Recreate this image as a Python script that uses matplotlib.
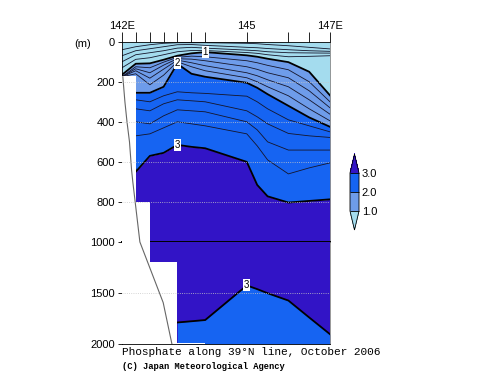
import numpy as np
import matplotlib
matplotlib.use('Agg')
import matplotlib.pyplot as plt
from matplotlib.colors import ListedColormap, BoundaryNorm
import matplotlib as mpl

plt.rcParams['font.family'] = ['Liberation Sans', 'DejaVu Sans']

# station longitudes (deg E)
lon = np.array([142.0, 142.33, 142.67, 143.0, 143.33, 143.67, 144.0,
                145.0, 145.25, 145.5, 146.0, 146.5, 147.0])

# depth (m) of each phosphate isoline at the stations
p02 = [40, 25, 15, 8, 5, 5, 5, 8, 10, 14, 20, 28, 36]
p04 = [70, 45, 35, 25, 15, 14, 18, 28, 30, 34, 40, 45, 48]
p06 = [100, 65, 55, 45, 32, 28, 32, 42, 45, 50, 55, 56, 57]
p08 = [130, 88, 80, 65, 50, 44, 44, 54, 58, 65, 75, 73, 70]
p10 = [165, 110, 108, 90, 70, 58, 52, 68, 75, 85, 102, 150, 268]
p12 = [175, 125, 130, 102, 78, 72, 75, 95, 105, 118, 140, 200, 300]
p14 = [175, 135, 155, 117, 85, 87, 95, 125, 138, 155, 180, 245, 330]
p16 = [175, 145, 182, 137, 92, 105, 120, 155, 170, 190, 225, 290, 362]
p18 = [175, 160, 215, 167, 100, 125, 145, 180, 200, 225, 270, 335, 395]
p20 = [175, 255, 255, 225, 110, 160, 175, 205, 230, 262, 320, 378, 425]
p22 = [175, 290, 300, 270, 250, 255, 258, 272, 300, 335, 390, 420, 450]
p24 = [175, 335, 345, 310, 290, 295, 300, 345, 375, 410, 458, 470, 478]
p26 = [175, 400, 410, 370, 340, 345, 350, 400, 440, 500, 541, 541, 541]
p28 = [175, 470, 460, 430, 400, 410, 420, 460, 520, 590, 660, 630, 605]
p30 = [175, 650, 570, 555, 515, 525, 532, 600, 715, 772, 803, 795, 787]
# deep 3.0 isoline (starts at 143.33E)
p30_deep = [1789, 1777, 1765, 1426, 1462, 1502, 1574, 1740, 1904]

thin_levels = [p02, p04, p06, p08, p12, p14, p16, p18, p22, p24, p26, p28]

# bottom topography (columns)
topo_left = [142.0, 142.33, 142.67, 143.33]
topo_right = [142.33, 142.67, 143.33, 144.0]
topo_depth = [172, 800, 1200, 1990]

# actual bottom profile
bathy_lon = [142.02, 142.07, 142.12, 142.18, 142.23, 142.26, 142.43, 142.99, 143.2]
bathy_depth = [175, 300, 400, 500, 640, 700, 1000, 1594, 2000]

c_low = '#a4dcee'
c_1 = '#6e9cea'
c_2 = '#1664f2'
c_3 = '#3214c6'

fig = plt.figure(figsize=(5, 3.87), dpi=100)
ax1 = fig.add_axes([0.244, 0.3747, 0.416, 0.5175])
ax2 = fig.add_axes([0.244, 0.1111, 0.416, 0.2636])

# upper part 0-1000 m
ax1.fill_between(lon, 0, p10, color=c_low, lw=0)
ax1.fill_between(lon, p10, p20, color=c_1, lw=0)
ax1.fill_between(lon, p20, p30, color=c_2, lw=0)
ax1.fill_between(lon, p30, 1000, color=c_3, lw=0)
for p in thin_levels:
    ax1.plot(lon, p, color='#15152a', lw=0.6)
for p in [p10, p20, p30]:
    ax1.plot(lon, p, color='black', lw=1.3)

# lower part 1000-2000 m
ax2.fill_between(lon, 1000, 2000, color=c_3, lw=0)
ax2.fill_between(lon[4:], p30_deep, 2000, color=c_2, lw=0)
ax2.plot(lon[4:], p30_deep, color='black', lw=1.3)

for ax in (ax1, ax2):
    w = np.array(topo_right) - np.array(topo_left)
    ax.bar(topo_left, 2100 - np.array(topo_depth), width=w, bottom=topo_depth,
           align='edge', color='white', lw=0, zorder=3)
    ax.plot(bathy_lon, bathy_depth, color='#666666', lw=0.8, zorder=4)
    ax.set_xlim(142, 147)

for y in [200, 400, 600, 800]:
    ax1.axhline(y, color='#c8c8c8', lw=0.6, ls=':', zorder=5)
ax2.axhline(1500, color='#c8c8c8', lw=0.6, ls=':', zorder=5)

# contour labels
lab = dict(ha='center', va='center', fontsize=7, zorder=6,
           bbox=dict(boxstyle='square,pad=0.1', fc='white', ec='none'))
ax1.text(144.0, 52, '1', **lab)
ax1.text(143.33, 108, '2', **lab)
ax1.text(143.33, 515, '3', **lab)
ax2.text(145.0, 1426, '3', **lab)

ax1.set_ylim(1000, 0)
ax2.set_ylim(2000, 1000)
ax1.set_yticks([0, 200, 400, 600, 800, 1000])
ax2.set_yticks([1500, 2000])
ax1.xaxis.tick_top()
ax1.set_xticks([142, 145, 147])
ax1.set_xticklabels(['142E', '145', '147E'])
ax1.set_xticks([142.33, 142.67, 143.0, 143.33, 143.67, 144.0, 146.0, 146.5], minor=True)
ax1.tick_params(axis='x', which='both', length=7, width=0.6, labelsize=8, pad=1)
ax2.set_xticks([])
for ax in (ax1, ax2):
    ax.tick_params(axis='y', length=3, width=0.6, labelsize=8, pad=2)
    for s in ax.spines.values():
        s.set_linewidth(0.6)
    ax.spines['right'].set_color('#888888')
ax1.spines['bottom'].set_linewidth(1.4)
ax2.spines['top'].set_visible(False)

fig.text(0.165, 0.886, '(m)', fontsize=8, va='center', ha='center')

# colorbar (axes box includes the end triangles)
cax = fig.add_axes([0.700, 0.4057, 0.018, 0.1964])
cmap = ListedColormap([c_1, c_2])
cmap.set_under(c_low)
cmap.set_over(c_3)
norm = BoundaryNorm([1.0, 2.0, 3.0], cmap.N)
cb = fig.colorbar(mpl.cm.ScalarMappable(norm=norm, cmap=cmap), cax=cax,
                  extend='both', extendfrac=0.5, ticks=[1.0, 2.0, 3.0],
                  drawedges=True)
cb.ax.set_yticklabels(['1.0', '2.0', '3.0'])
cb.ax.tick_params(length=0, labelsize=8, pad=2)
cb.outline.set_linewidth(0.6)
cb.dividers.set_linewidth(0.6)

fig.text(0.244, 0.090, 'Phosphate along 39\u00b0N line, October 2006',
         family=['Liberation Mono', 'DejaVu Sans Mono'], fontsize=8.0, va='center')
fig.text(0.244, 0.052, '(C) Japan Meteorological Agency',
         family=['Liberation Mono', 'DejaVu Sans Mono'], fontsize=6.3,
         fontweight='bold', va='center')

fig.savefig('out.png', dpi=100)
